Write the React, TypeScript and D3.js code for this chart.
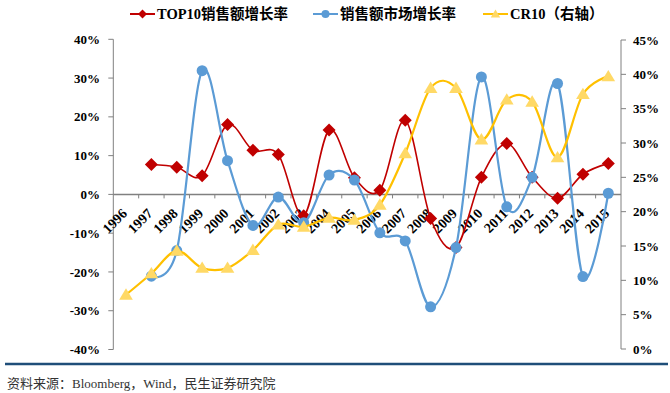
import React, { useEffect, useRef } from "react";
import * as d3 from "d3";

const years = ["1996", "1997", "1998", "1999", "2000", "2001", "2002", "2003", "2004", "2005",
  "2006", "2007", "2008", "2009", "2010", "2011", "2012", "2013", "2014", "2015"];

// TOP10销售额增长率 (%), left axis
const top10Growth = [null, 7.7, 7.0, 4.8, 18.0, 11.4, 10.3, -5.5, 16.6, 4.3,
  1.1, 19.1, -6.2, -13.7, 4.4, 13.1, 4.4, -1.0, 5.2, 8.0];

// 销售额市场增长率 (%), left axis
const marketGrowth = [null, -21.1, -14.5, 31.9, 8.7, -8.0, -0.7, -7.3, 5.0, 3.7,
  -9.9, -12.0, -29.0, -13.7, 30.3, -3.2, 4.4, 28.6, -21.2, 0.3];

// CR10 (%), right axis
const cr10 = [7.9, 11.0, 14.3, 11.8, 11.8, 14.4, 18.1, 17.8, 19.1, 18.8,
  21.0, 28.5, 38.0, 38.0, 30.5, 36.3, 36.0, 27.9, 37.1, 39.7];

const leftTicks = [-40, -30, -20, -10, 0, 10, 20, 30, 40];
const rightTicks = [0, 5, 10, 15, 20, 25, 30, 35, 40, 45];

const RED = "#C00000";
const BLUE = "#5B9BD5";
const YELLOW = "#FFC000";
const YELLOW_MARK = "#FFD966";
const FONT = "'Liberation Serif', 'Times New Roman', 'Noto Sans CJK SC', serif";

const App: React.FC = () => {
  const svgRef = useRef<SVGSVGElement | null>(null);

  useEffect(() => {
    const width = 670;
    const height = 393;
    const left = 113.3;
    const right = 621;

    const svg = d3.select(svgRef.current);
    svg.selectAll("*").remove();
    svg.attr("width", width).attr("height", height);

    const x = d3.scaleBand<string>().domain(years).range([left, right]);
    const cx = (y: string) => (x(y) as number) + x.bandwidth() / 2;
    const yL = d3.scaleLinear().domain([-40, 40]).range([349.5, 39.3]);
    const yR = d3.scaleLinear().domain([0, 45]).range([349, 40]);

    // left axis
    svg.append("line")
      .attr("x1", left).attr("x2", left)
      .attr("y1", yL(-40)).attr("y2", yL(40))
      .attr("stroke", "#808080").attr("stroke-width", 1);
    leftTicks.forEach(t => {
      svg.append("line")
        .attr("x1", left - 5).attr("x2", left)
        .attr("y1", yL(t)).attr("y2", yL(t))
        .attr("stroke", "#808080");
      svg.append("text")
        .attr("x", 100).attr("y", yL(t))
        .attr("dy", "0.35em")
        .attr("text-anchor", "end")
        .style("font-family", FONT)
        .style("font-weight", "bold")
        .style("font-size", "13px")
        .text(`${t}%`);
    });

    // right axis
    svg.append("line")
      .attr("x1", right).attr("x2", right)
      .attr("y1", yR(0)).attr("y2", yR(45))
      .attr("stroke", "#808080");
    rightTicks.forEach(t => {
      svg.append("line")
        .attr("x1", right).attr("x2", right + 5)
        .attr("y1", yR(t)).attr("y2", yR(t))
        .attr("stroke", "#808080");
      svg.append("text")
        .attr("x", 633).attr("y", yR(t))
        .attr("dy", "0.35em")
        .style("font-family", FONT)
        .style("font-weight", "bold")
        .style("font-size", "13px")
        .text(`${t}%`);
    });

    // x axis at 0%
    svg.append("line")
      .attr("x1", left).attr("x2", right)
      .attr("y1", yL(0)).attr("y2", yL(0))
      .attr("stroke", "#808080").attr("stroke-width", 1.5);
    years.forEach((yr, i) => {
      if (i > 0) {
        svg.append("line")
          .attr("x1", x(yr) as number).attr("x2", x(yr) as number)
          .attr("y1", yL(0)).attr("y2", yL(0) + 4)
          .attr("stroke", "#808080");
      }
      svg.append("text")
        .attr("transform", `translate(${cx(yr) + 2},${yL(0) + 20}) rotate(-45)`)
        .attr("text-anchor", "end")
        .style("font-family", FONT)
        .style("font-weight", "bold")
        .style("font-size", "14px")
        .text(yr);
    });

    const curve = d3.curveCardinal.tension(0);
    const lineL = d3.line<number | null>()
      .defined(d => d !== null)
      .x((_, i) => cx(years[i]))
      .y(d => yL(d as number))
      .curve(curve);
    const lineR = d3.line<number>()
      .x((_, i) => cx(years[i]))
      .y(d => yR(d))
      .curve(curve);

    const diamond = (s: number) => `M0,${-s}L${s},0L0,${s}L${-s},0Z`;
    const triangle = (s: number) => `M0,${-s}L${s * 1.05},${s * 0.75}L${-s * 1.05},${s * 0.75}Z`;

    // red series
    svg.append("path")
      .attr("d", lineL(top10Growth))
      .attr("fill", "none").attr("stroke", RED).attr("stroke-width", 1.6);
    top10Growth.forEach((v, i) => {
      if (v === null) return;
      svg.append("path")
        .attr("d", diamond(6.5))
        .attr("transform", `translate(${cx(years[i])},${yL(v)})`)
        .attr("fill", RED);
    });

    // blue series
    svg.append("path")
      .attr("d", lineL(marketGrowth))
      .attr("fill", "none").attr("stroke", BLUE).attr("stroke-width", 2.2);
    marketGrowth.forEach((v, i) => {
      if (v === null) return;
      svg.append("circle")
        .attr("cx", cx(years[i])).attr("cy", yL(v)).attr("r", 5.5)
        .attr("fill", BLUE);
    });

    // yellow series
    svg.append("path")
      .attr("d", lineR(cr10))
      .attr("fill", "none").attr("stroke", YELLOW).attr("stroke-width", 2.2);
    cr10.forEach((v, i) => {
      svg.append("path")
        .attr("d", triangle(6.5))
        .attr("transform", `translate(${cx(years[i])},${yR(v)})`)
        .attr("fill", YELLOW_MARK);
    });

    // legend
    const legend = [
      { label: "TOP10销售额增长率", color: RED, x0: 130, mark: "diamond" },
      { label: "销售额市场增长率", color: BLUE, x0: 313, mark: "circle" },
      { label: "CR10（右轴）", color: YELLOW, x0: 483, mark: "triangle" },
    ];
    legend.forEach(l => {
      const ly = 14;
      svg.append("line")
        .attr("x1", l.x0).attr("x2", l.x0 + 25)
        .attr("y1", ly).attr("y2", ly)
        .attr("stroke", l.color).attr("stroke-width", 2);
      if (l.mark === "diamond") {
        svg.append("path").attr("d", diamond(4.5))
          .attr("transform", `translate(${l.x0 + 12.5},${ly})`).attr("fill", RED);
      } else if (l.mark === "circle") {
        svg.append("circle").attr("cx", l.x0 + 12.5).attr("cy", ly).attr("r", 4).attr("fill", BLUE);
      } else {
        svg.append("path").attr("d", triangle(4.5))
          .attr("transform", `translate(${l.x0 + 12.5},${ly})`).attr("fill", YELLOW_MARK);
      }
      svg.append("text")
        .attr("x", l.x0 + 27).attr("y", ly)
        .attr("dy", "0.35em")
        .style("font-family", FONT)
        .style("font-weight", "bold")
        .style("font-size", "14.5px")
        .text(l.label);
    });

    // footer
    svg.append("line")
      .attr("x1", 5).attr("x2", 668)
      .attr("y1", 364).attr("y2", 364)
      .attr("stroke", "#1F4E79").attr("stroke-width", 2.5);
    svg.append("text")
      .attr("x", 7).attr("y", 383)
      .attr("dy", "0.35em")
      .style("font-family", FONT)
      .style("font-size", "13px")
      .attr("fill", "#333")
      .text("资料来源：Bloomberg，Wind，民生证券研究院");
  }, []);

  return <svg ref={svgRef} style={{ position: "absolute", left: 0, top: 0 }}></svg>;
};

export default App;
